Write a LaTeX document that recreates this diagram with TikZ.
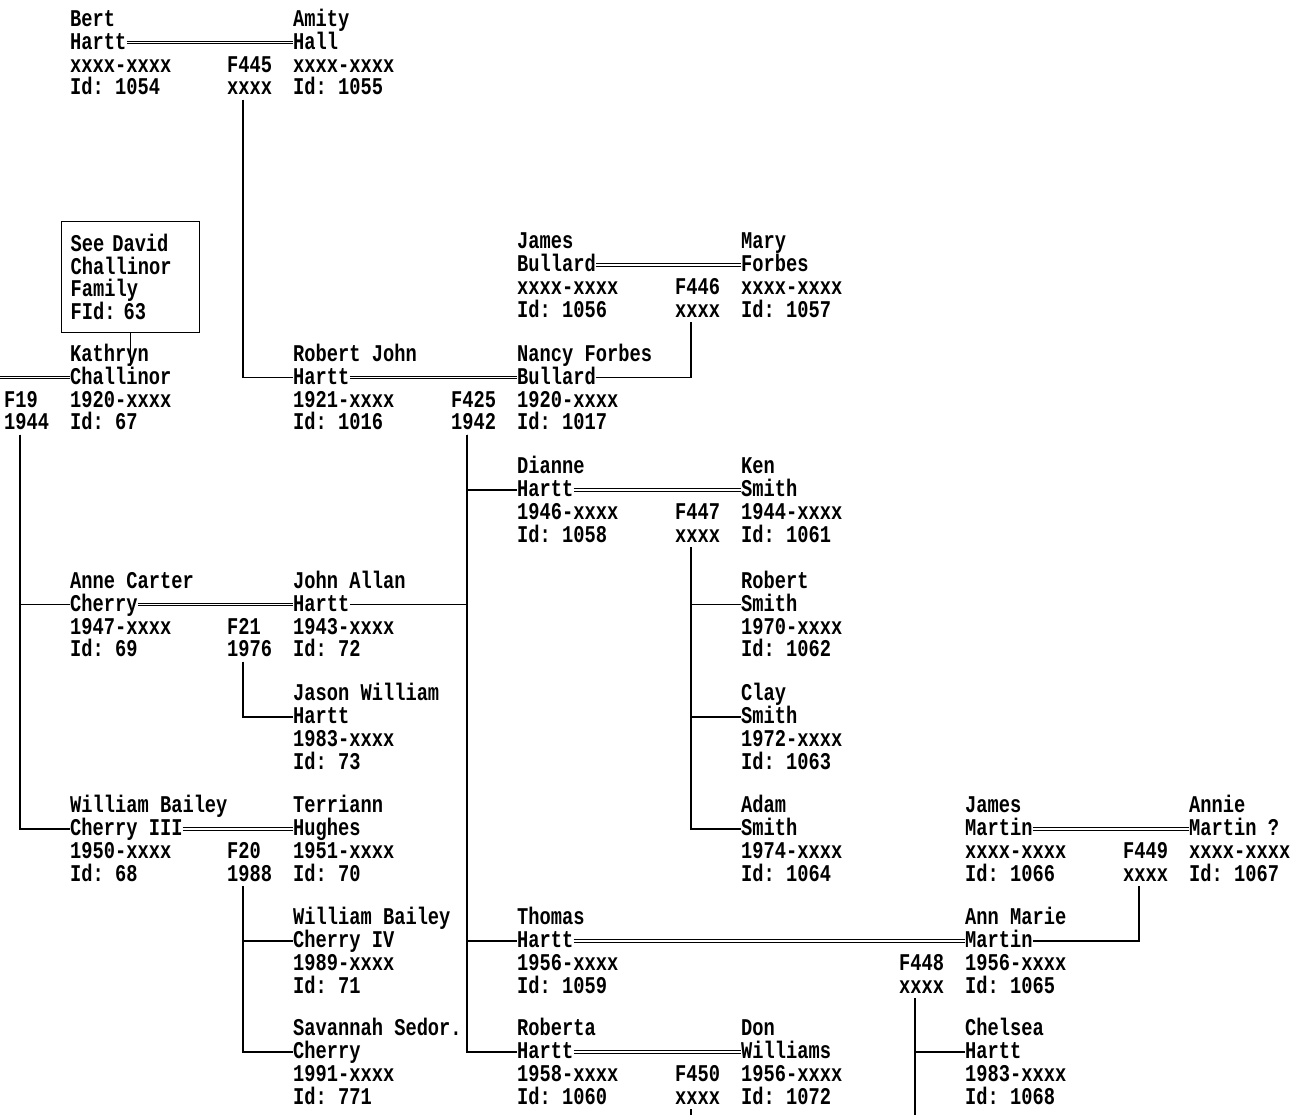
\documentclass[tikz,border=0pt]{standalone}
\usepackage{fontspec}
\newfontfamily\chartfont{Liberation Mono}[FakeStretch=0.78]
\usepackage{tikz}
\usetikzlibrary{positioning, calc}
\tikzset{
  rowtext/.style={inner sep=0pt, text height=17.9pt, text depth=4.54pt,
    font=\chartfont\bfseries\fontsize{24}{22.44}\selectfont\frenchspacing},
  refbox/.style={draw, line width=1.2pt, align=left, text width=120pt,
    inner xsep=9pt, inner ysep=0pt, minimum height=111pt,
    font=\chartfont\bfseries\fontsize{24}{22.44}\selectfont\frenchspacing},
  kin/.style={line width=1.4pt},
  wed/.style={double, double distance=1.8pt, line width=1pt}
}
% one person: name, surname line position, four lines of text
\newcommand{\personblock}[6]{%
  \node[rowtext, anchor=west] (#1) at (#2) {#4};
  \node[rowtext, anchor=south west] (#1-a) at (#1.north west) {#3};
  \node[rowtext, anchor=north west] (#1-c) at (#1.south west) {#5};
  \node[rowtext, anchor=north west] (#1-d) at (#1-c.south west) {#6};
}
% one family: name, right spouse, label, year
\newcommand{\famlabel}[4]{%
  \node[rowtext, anchor=west] (#1) at ([xshift=-66pt]#2-c.west) {#3};
  \node[rowtext, anchor=north west] (#1-y) at (#1.south west) {#4};
  \coordinate (#1-drop) at ([xshift=16pt]#1-y.south west);
}

\begin{document}
\begin{tikzpicture}[x=1pt, y=-1pt]

  \useasboundingbox[fill=white] (0,0) rectangle (1290,1115);
  \coordinate (edgeW) at (0,0);
  \coordinate (edgeS) at (0,1115);

  % Grandparents
  \personblock{bert}{70,42.5}{Bert}{Hartt}{xxxx-xxxx}{Id: 1054}
  \personblock{amity}{293,42.5}{Amity}{Hall}{xxxx-xxxx}{Id: 1055}
  \famlabel{f445}{amity}{F445}{xxxx}

  \personblock{jamesb}{517,265}{James}{Bullard}{xxxx-xxxx}{Id: 1056}
  \personblock{mary}{741,265}{Mary}{Forbes}{xxxx-xxxx}{Id: 1057}
  \famlabel{f446}{mary}{F446}{xxxx}

  \node[refbox, anchor=north west] (davidbox) at (61,221)
    {See David\\Challinor\\Family\\FId: 63};

  % Parents
  \personblock{kathryn}{70,377.5}{Kathryn}{Challinor}{1920-xxxx}{Id: 67}
  \famlabel{f19}{kathryn}{F19}{1944}
  \personblock{robert}{293,377.5}{Robert John}{Hartt}{1921-xxxx}{Id: 1016}
  \personblock{nancy}{517,377.5}{Nancy Forbes}{Bullard}{1920-xxxx}{Id: 1017}
  \famlabel{f425}{nancy}{F425}{1942}

  % Children
  \personblock{dianne}{517,490}{Dianne}{Hartt}{1946-xxxx}{Id: 1058}
  \personblock{ken}{741,490}{Ken}{Smith}{1944-xxxx}{Id: 1061}
  \famlabel{f447}{ken}{F447}{xxxx}

  \personblock{anne}{70,604.5}{Anne Carter}{Cherry}{1947-xxxx}{Id: 69}
  \personblock{johnallan}{293,604.5}{John Allan}{Hartt}{1943-xxxx}{Id: 72}
  \famlabel{f21}{johnallan}{F21}{1976}
  \personblock{robsmith}{741,604.5}{Robert}{Smith}{1970-xxxx}{Id: 1062}

  \personblock{jason}{293,717}{Jason William}{Hartt}{1983-xxxx}{Id: 73}
  \personblock{clay}{741,717}{Clay}{Smith}{1972-xxxx}{Id: 1063}

  \personblock{william3}{70,829}{William Bailey}{Cherry III}{1950-xxxx}{Id: 68}
  \personblock{terriann}{293,829}{Terriann}{Hughes}{1951-xxxx}{Id: 70}
  \famlabel{f20}{terriann}{F20}{1988}
  \personblock{adam}{741,829}{Adam}{Smith}{1974-xxxx}{Id: 1064}
  \personblock{jamesm}{965,829}{James}{Martin}{xxxx-xxxx}{Id: 1066}
  \personblock{annie}{1189,829}{Annie}{Martin ?}{xxxx-xxxx}{Id: 1067}
  \famlabel{f449}{annie}{F449}{xxxx}

  \personblock{william4}{293,941}{William Bailey}{Cherry IV}{1989-xxxx}{Id: 71}
  \personblock{thomas}{517,941}{Thomas}{Hartt}{1956-xxxx}{Id: 1059}
  \personblock{annmarie}{965,941}{Ann Marie}{Martin}{1956-xxxx}{Id: 1065}
  \famlabel{f448}{annmarie}{F448}{xxxx}

  \personblock{savannah}{293,1052}{Savannah Sedor.}{Cherry}{1991-xxxx}{Id: 771}
  \personblock{roberta}{517,1052}{Roberta}{Hartt}{1958-xxxx}{Id: 1060}
  \personblock{don}{741,1052}{Don}{Williams}{1956-xxxx}{Id: 1072}
  \famlabel{f450}{don}{F450}{xxxx}
  \personblock{chelsea}{965,1052}{Chelsea}{Hartt}{1983-xxxx}{Id: 1068}

  % Marriages
  \draw[wed] (bert.east)     -- (amity.west);
  \draw[wed] (jamesb.east)   -- (mary.west);
  \draw[wed] (edgeW |- kathryn.west) -- (kathryn.west);
  \draw[wed] (robert.east)   -- (nancy.west);
  \draw[wed] (dianne.east)   -- (ken.west);
  \draw[wed] (anne.east)     -- (johnallan.west);
  \draw[wed] (william3.east) -- (terriann.west);
  \draw[wed] (jamesm.east)   -- (annie.west);
  \draw[wed] (thomas.east)   -- (annmarie.west);
  \draw[wed] (roberta.east)  -- (don.west);

  % Descent
  \draw[kin] (davidbox.south) -- (davidbox.south |- kathryn.north);
  \draw[kin] (f445-drop) |- (robert.west);
  \draw[kin] (nancy.east) -| (f446-drop);
  \draw[kin] (f19-drop) |- (anne.west);
  \draw[kin] (f19-drop) |- (william3.west);
  \draw[kin] (f425-drop) |- (dianne.west);
  \draw[kin] (f425-drop) |- (johnallan.east);
  \draw[kin] (f425-drop) |- (thomas.west);
  \draw[kin] (f425-drop) |- (roberta.west);
  \draw[kin] (f447-drop) |- (robsmith.west);
  \draw[kin] (f447-drop) |- (clay.west);
  \draw[kin] (f447-drop) |- (adam.west);
  \draw[kin] (f21-drop) |- (jason.west);
  \draw[kin] (f20-drop) |- (william4.west);
  \draw[kin] (f20-drop) |- (savannah.west);
  \draw[kin] (annmarie.east) -| (f449-drop);
  \draw[kin] (f448-drop) |- (chelsea.west);
  \draw[kin] (f448-drop) -- (f448-drop |- edgeS);
  \draw[kin] (f450-drop) -- (f450-drop |- edgeS);

\end{tikzpicture}
\end{document}
